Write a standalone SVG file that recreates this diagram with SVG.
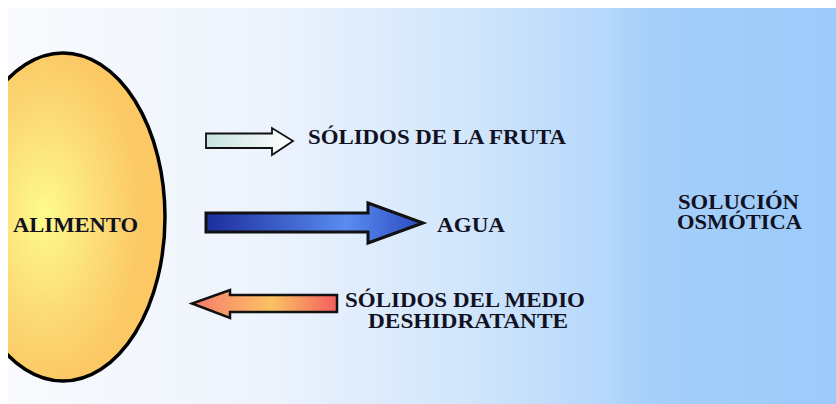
<svg xmlns="http://www.w3.org/2000/svg" width="836" height="404" viewBox="0 0 836 404">
<defs>
<linearGradient id="bg" x1="0" y1="0" x2="1" y2="0">
<stop offset="0" stop-color="#f8fafd"/>
<stop offset="0.3" stop-color="#eef4fd"/>
<stop offset="0.55" stop-color="#d2e6fc"/>
<stop offset="0.72" stop-color="#b6d8fb"/>
<stop offset="0.77" stop-color="#a6cffa"/>
<stop offset="1" stop-color="#9ccafa"/>
</linearGradient>
<radialGradient id="food" cx="45" cy="215" r="130" gradientUnits="userSpaceOnUse" gradientTransform="translate(45 215) scale(0.75 1.3) translate(-45 -215)">
<stop offset="0" stop-color="#fdfb8c"/>
<stop offset="0.55" stop-color="#fcdd78"/>
<stop offset="1" stop-color="#fbc864"/>
</radialGradient>
<linearGradient id="gFruta" x1="205" y1="0" x2="293" y2="0" gradientUnits="userSpaceOnUse">
<stop offset="0" stop-color="#c7e2df"/>
<stop offset="1" stop-color="#ffffff"/>
</linearGradient>
<linearGradient id="gAgua" x1="205" y1="0" x2="423" y2="0" gradientUnits="userSpaceOnUse">
<stop offset="0" stop-color="#1b2d9c"/>
<stop offset="0.65" stop-color="#5a8cf0"/>
<stop offset="1" stop-color="#2a48c0"/>
</linearGradient>
<linearGradient id="gMedio" x1="192" y1="0" x2="337" y2="0" gradientUnits="userSpaceOnUse">
<stop offset="0" stop-color="#f77a6c"/>
<stop offset="0.55" stop-color="#fbc263"/>
<stop offset="1" stop-color="#f35e5e"/>
</linearGradient>
<clipPath id="clip"><rect x="8" y="8" width="828" height="396"/></clipPath>
<style>
.t{font-family:"Liberation Serif","Times New Roman",serif;font-weight:bold;font-size:20px;fill:#111122}
.arrow{stroke:#111;stroke-linejoin:miter}
</style>
</defs>
<rect x="0" y="0" width="836" height="404" fill="#ffffff"/>
<rect x="8" y="8" width="828" height="396" fill="url(#bg)"/>
<g id="alimento" clip-path="url(#clip)">
<ellipse cx="63" cy="217" rx="102" ry="164" fill="url(#food)" stroke="#000" stroke-width="3.5"/>
<text class="t" x="13" y="231.5" textLength="125" lengthAdjust="spacingAndGlyphs">ALIMENTO</text>
</g>
<g id="solucion">
<text class="t" x="678" y="208.5" textLength="121" lengthAdjust="spacingAndGlyphs">SOLUCIÓN</text>
<text class="t" x="677" y="228.5" textLength="125" lengthAdjust="spacingAndGlyphs">OSMÓTICA</text>
</g>
<g id="connectors">
<path class="arrow" d="M206,133.5 L272,133.5 L272,128 L293,141 L272,155 L272,148 L206,148 Z" fill="url(#gFruta)" stroke-width="1.8"/>
<path class="arrow" d="M206,213 L368,213 L368,203 L423,223 L368,243 L368,232 L206,232 Z" fill="url(#gAgua)" stroke-width="3"/>
<path class="arrow" d="M337,295 L230,295 L230,290 L192,303.5 L230,318 L230,312 L337,312 Z" fill="url(#gMedio)" stroke-width="2.5"/>
</g>
<g id="lbl-fruta"><text class="t" x="308" y="144" textLength="258" lengthAdjust="spacingAndGlyphs">SÓLIDOS DE LA FRUTA</text></g>
<g id="lbl-agua"><text class="t" x="437" y="232" textLength="68" lengthAdjust="spacingAndGlyphs">AGUA</text></g>
<g id="lbl-medio">
<text class="t" x="345" y="306.5" textLength="240" lengthAdjust="spacingAndGlyphs">SÓLIDOS DEL MEDIO</text>
<text class="t" x="368" y="327.5" textLength="200" lengthAdjust="spacingAndGlyphs">DESHIDRATANTE</text>
</g>
</svg>
